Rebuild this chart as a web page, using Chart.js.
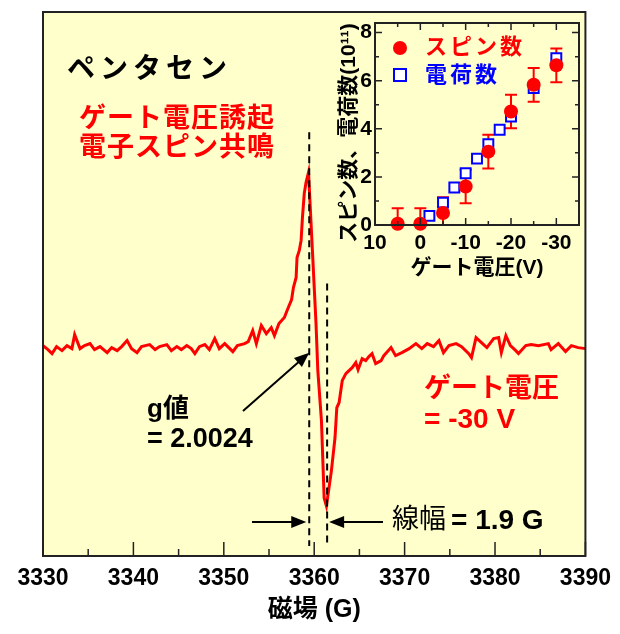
<!DOCTYPE html>
<html>
<head>
<meta charset="utf-8">
<script src="https://cdn.jsdelivr.net/npm/chart.js@4.4.0/dist/chart.umd.min.js"></script>
<style>
body{margin:0;background:#fff}
#wrap{position:relative;width:620px;height:634px}
#main{position:absolute;left:0;top:0}
#inset{position:absolute;left:330px;top:0}
</style>
</head>
<body>
<div id="wrap">
<canvas id="main" width="620" height="634"></canvas>
<canvas id="inset" width="280" height="290"></canvas>
</div>
<script>
// ESR spectrum, field in gauss, signal in arbitrary units
var field = [3330.0,3330.55,3331.0,3331.5,3332.1,3332.65,3333.2,3333.5,3334.1,3334.6,3335.2,3335.7,3336.3,3337.1,3337.6,3338.2,3338.7,3339.3,3339.8,3340.4,3340.9,3341.8,3342.4,3342.9,3343.7,3344.2,3344.8,3345.3,3345.9,3346.4,3346.8,3347.3,3347.9,3348.4,3349.0,3349.5,3350.1,3351.0,3351.5,3352.3,3352.7,3353.2,3353.6,3354.15,3354.7,3355.25,3355.6,3356.1,3356.7,3357.0,3357.5,3357.7,3358.0,3358.1,3358.35,3358.55,3358.7,3358.9,3359.1,3359.37,3359.8,3360.2,3360.4,3360.8,3361.1,3361.35,3361.9,3362.3,3362.5,3362.75,3363.1,3363.5,3363.85,3364.2,3364.6,3364.85,3365.3,3365.7,3366.05,3366.4,3366.8,3367.4,3367.7,3368.5,3369.0,3369.7,3370.5,3371.25,3371.9,3372.5,3373.2,3373.8,3374.3,3374.9,3375.7,3376.3,3377.1,3377.4,3377.9,3378.5,3379.1,3379.85,3380.4,3380.7,3381.2,3381.7,3382.3,3382.6,3383.4,3384.0,3384.8,3385.9,3386.2,3387.0,3387.8,3388.45,3389.2,3390.0];
var signal = [0.2,-0.2,-0.6,0.1,-0.3,0.2,-0.1,1.3,-0.1,0.2,0.4,-0.2,0.1,-0.5,0.0,-0.3,0.1,0.7,-0.1,-0.5,0.1,0.3,-0.2,0.1,0.3,-0.3,0.1,-0.2,0.2,-0.1,-0.6,0.1,0.3,-0.2,0.9,-0.1,0.4,-0.4,0.2,0.4,0.6,1.7,0.4,2.2,1.4,2.0,1.2,2.4,3.0,3.7,4.8,6.0,7.0,9.0,9.7,10.7,13.0,15.4,16.5,17.5,9.7,2.4,-2.3,-7.3,-15.0,-15.8,-12.3,-9.0,-6.0,-5.5,-3.3,-2.6,-2.3,-2.0,-1.5,-2.2,-1.1,-1.3,-0.9,-0.6,-1.6,-1.3,-0.8,0.0,-0.8,-0.5,-0.1,0.4,-0.1,0.4,0.1,0.7,-0.5,0.2,0.4,0.1,-0.6,-1.0,1.0,0.5,0.0,0.9,1.0,-0.5,1.2,0.2,-0.3,-0.6,0.2,0.3,0.2,0.4,-0.2,0.4,-0.4,0.2,0.0,-0.1];
var fieldTicks = [3330,3340,3350,3360,3370,3380,3390];

// inset: spin count and charge count vs gate voltage (x10^11)
var gateV = [5,0,-5,-10,-15,-20,-25,-30];
var spinCount = [0.05,0.05,0.5,1.6,3.05,4.72,5.83,6.64];
var spinErr = [0.65,0.65,0.65,0.7,0.7,0.7,0.7,0.7];
var chargeV = [-2,-5,-7.5,-10,-12.5,-15,-17.5,-20,-25,-30];
var chargeCount = [0.38,0.93,1.56,2.15,2.76,3.36,3.96,4.51,5.69,6.94];
var gateTicks = [10,0,-10,-20,-30];
var countTicks = [0,2,4,6,8];

var FONT = "'Liberation Sans', Arial, 'Noto Sans CJK JP', sans-serif";
var BG = '#ffffcc';

function arrow(ctx, x1, y1, x2, y2){
  var a = Math.atan2(y2 - y1, x2 - x1), L = 15, W = 6;
  ctx.beginPath(); ctx.moveTo(x1, y1);
  ctx.lineTo(x2 - (L - 2) * Math.cos(a), y2 - (L - 2) * Math.sin(a)); ctx.stroke();
  ctx.beginPath(); ctx.moveTo(x2, y2);
  ctx.lineTo(x2 - L * Math.cos(a) + W * Math.sin(a), y2 - L * Math.sin(a) - W * Math.cos(a));
  ctx.lineTo(x2 - L * Math.cos(a) - W * Math.sin(a), y2 - L * Math.sin(a) + W * Math.cos(a));
  ctx.closePath(); ctx.fill();
}

function txt(ctx, s, x, y, size, color, weight, spacing){
  ctx.font = (weight || 'bold') + ' ' + size + 'px ' + FONT;
  ctx.fillStyle = color;
  ctx.letterSpacing = (spacing || 0) + 'px';
  ctx.textAlign = 'left'; ctx.textBaseline = 'middle';
  ctx.fillText(s, x, y);
  ctx.letterSpacing = '0px';
}

function plain(v){ return String(v); }

var mainDeco = {
  id: 'mainDeco',
  beforeDraw: function(chart){
    var c = chart.ctx, a = chart.chartArea;
    c.save(); c.fillStyle = BG; c.fillRect(a.left, a.top, a.right - a.left, a.bottom - a.top); c.restore();
  },
  afterDatasetsDraw: function(chart){
    var c = chart.ctx, a = chart.chartArea, x = chart.scales.x, y = chart.scales.y;
    c.save();
    // g-value and line width markers
    c.strokeStyle = '#000'; c.fillStyle = '#000'; c.lineWidth = 2; c.setLineDash([7, 5]);
    var g1 = x.getPixelForValue(3359.45), g2 = x.getPixelForValue(3361.43);
    c.beginPath(); c.moveTo(g1, y.getPixelForValue(21.5)); c.lineTo(g1, y.getPixelForValue(-19.8)); c.stroke();
    c.beginPath(); c.moveTo(g2, y.getPixelForValue(6.4)); c.lineTo(g2, y.getPixelForValue(-19.8)); c.stroke();
    c.setLineDash([]);
    var ay = y.getPixelForValue(-17.4);
    arrow(c, 252, ay, g1 - 3, ay);
    arrow(c, 383, ay, g2 + 2, ay);
    arrow(c, 243, 411, g1, y.getPixelForValue(-0.5));
    // frame and inward ticks
    c.strokeStyle = '#222'; c.lineWidth = 2;
    c.strokeRect(a.left, a.top, a.right - a.left, a.bottom - a.top);
    c.lineWidth = 1.5;
    for (var v = 3330; v <= 3390; v += 5){
      var px = x.getPixelForValue(v), len = (v % 10 === 0) ? 14 : 7;
      c.beginPath(); c.moveTo(px, a.bottom); c.lineTo(px, a.bottom - len); c.stroke();
    }
    // texts
    txt(c, 'ペンタセン', 67, 70, 28, '#000', 'bold', 5);
    txt(c, 'ゲート電圧誘起', 79, 120, 27, '#ff0000', 'bold', 1);
    txt(c, '電子スピン共鳴', 79, 149, 27, '#ff0000', 'bold', 1);
    txt(c, 'g値', 147, 410, 26, '#000', 'bold');
    txt(c, '= 2.0024', 147, 440, 27, '#000', 'bold');
    txt(c, 'ゲート電圧', 424, 390, 27, '#ff0000', 'bold');
    txt(c, '= -30 V', 424, 420, 28, '#ff0000', 'bold');
    txt(c, '線幅', 392, 521, 27, '#000', 'normal');
    txt(c, '= 1.9 G', 451, 521, 28, '#000', 'bold');
    c.font = 'bold 25px ' + FONT; c.textAlign = 'center'; c.textBaseline = 'middle'; c.fillStyle = '#000';
    c.fillText('磁場 (G)', (a.left + a.right) / 2, 610);
    c.restore();
  }
};

new Chart(document.getElementById('main'), {
  type: 'line',
  data: {
    datasets: [{
      data: field.map(function(g, i){ return {x: g, y: signal[i]}; }),
      borderColor: '#ff0000', borderWidth: 3, pointRadius: 0, tension: 0, fill: false
    }]
  },
  options: {
    responsive: false, animation: false, devicePixelRatio: 1,
    layout: {padding: {left: 43, right: 33, top: 12, bottom: 0}},
    plugins: {legend: {display: false}, tooltip: {enabled: false}},
    scales: {
      x: {
        type: 'linear', min: 3330, max: 3390,
        afterBuildTicks: function(s){ s.ticks = fieldTicks.map(function(v){ return {value: v}; }); },
        afterFit: function(s){ s.height = 78; },
        grid: {display: false, drawTicks: false}, border: {display: false},
        ticks: {padding: 9, color: '#000', callback: plain, font: {family: FONT, size: 23, weight: 'bold'}, maxRotation: 0}
      },
      y: {display: false, min: -20.8, max: 33.5}
    }
  },
  plugins: [mainDeco]
});

var insetDeco = {
  id: 'insetDeco',
  beforeDatasetsDraw: function(chart){
    var c = chart.ctx, a = chart.chartArea, x = chart.scales.x, y = chart.scales.y;
    c.save();
    c.beginPath(); c.rect(a.left, a.top, a.right - a.left, a.bottom - a.top); c.clip();
    c.strokeStyle = '#ff0000'; c.lineWidth = 2;
    gateV.forEach(function(v, i){
      var px = x.getPixelForValue(v), t = y.getPixelForValue(spinCount[i] + spinErr[i]), b = y.getPixelForValue(spinCount[i] - spinErr[i]);
      c.beginPath(); c.moveTo(px, t); c.lineTo(px, b);
      c.moveTo(px - 6, t); c.lineTo(px + 6, t); c.moveTo(px - 6, b); c.lineTo(px + 6, b); c.stroke();
    });
    c.restore();
  },
  afterDraw: function(chart){
    var c = chart.ctx, a = chart.chartArea, x = chart.scales.x, y = chart.scales.y;
    c.save();
    c.strokeStyle = '#222'; c.lineWidth = 2;
    c.strokeRect(a.left, a.top, a.right - a.left, a.bottom - a.top);
    c.lineWidth = 1.5;
    for (var v = 10; v >= -35; v -= 5){
      var px = x.getPixelForValue(v), len = (v % 10 === 0) ? 7 : 4;
      c.beginPath(); c.moveTo(px, a.bottom); c.lineTo(px, a.bottom - len);
      c.moveTo(px, a.top); c.lineTo(px, a.top + len); c.stroke();
    }
    for (var w = 0; w <= 8; w += 1){
      var py = y.getPixelForValue(w), ln = (w % 2 === 0) ? 7 : 4;
      c.beginPath(); c.moveTo(a.left, py); c.lineTo(a.left + ln, py);
      c.moveTo(a.right, py); c.lineTo(a.right - ln, py); c.stroke();
    }
    // legend
    c.fillStyle = '#ff0000'; c.beginPath(); c.arc(a.left + 25, 48, 7, 0, Math.PI * 2); c.fill();
    c.strokeStyle = '#0000ff'; c.lineWidth = 2; c.fillStyle = '#fff';
    c.fillRect(a.left + 19, 69, 12, 12); c.strokeRect(a.left + 19, 69, 12, 12);
    txt(c, 'スピン数', a.left + 50, 48, 22, '#ff0000', 'bold', 3);
    txt(c, '電荷数', a.left + 50, 76, 22, '#0000ff', 'bold', 3);
    // axis titles
    c.fillStyle = '#000'; c.textAlign = 'center'; c.textBaseline = 'middle';
    c.font = 'bold 21px ' + FONT;
    c.fillText('ゲート電圧(V)', (a.left + a.right) / 2, 268);
    c.translate(19, (a.top + a.bottom) / 2 + 9); c.rotate(-Math.PI / 2);
    c.font = 'bold 21px ' + FONT;
    c.fillText('スピン数、電荷数(10¹¹)', 0, 0);
    c.restore();
  }
};

new Chart(document.getElementById('inset'), {
  type: 'scatter',
  data: {
    datasets: [
      {
        label: 'スピン数',
        data: gateV.map(function(v, i){ return {x: v, y: spinCount[i]}; }),
        pointStyle: 'circle', pointRadius: 7, backgroundColor: '#ff0000', borderColor: '#ff0000', borderWidth: 0,
        clip: false, order: 0
      },
      {
        label: '電荷数',
        data: chargeV.map(function(v, i){ return {x: v, y: chargeCount[i]}; }),
        pointStyle: 'rect', pointRadius: 7, backgroundColor: '#ffffff', borderColor: '#0000ff', borderWidth: 2,
        clip: false, order: 1
      }
    ]
  },
  options: {
    responsive: false, animation: false, devicePixelRatio: 1,
    layout: {padding: {left: 0, right: 31, top: 23, bottom: 0}},
    plugins: {legend: {display: false}, tooltip: {enabled: false}},
    scales: {
      x: {
        type: 'linear', min: -35, max: 10, reverse: true,
        afterBuildTicks: function(s){ s.ticks = gateTicks.map(function(v){ return {value: v}; }); },
        afterFit: function(s){ s.height = 65; },
        grid: {display: false, drawTicks: false}, border: {display: false},
        ticks: {padding: 6, color: '#000', callback: plain, font: {family: FONT, size: 21, weight: 'bold'}, maxRotation: 0}
      },
      y: {
        type: 'linear', min: 0, max: 8.4,
        afterBuildTicks: function(s){ s.ticks = countTicks.map(function(v){ return {value: v}; }); },
        afterFit: function(s){ s.width = 45; },
        grid: {display: false, drawTicks: false}, border: {display: false},
        ticks: {padding: 3, color: '#000', callback: plain, font: {family: FONT, size: 21, weight: 'bold'}}
      }
    }
  },
  plugins: [insetDeco]
});
</script>
</body>
</html>
